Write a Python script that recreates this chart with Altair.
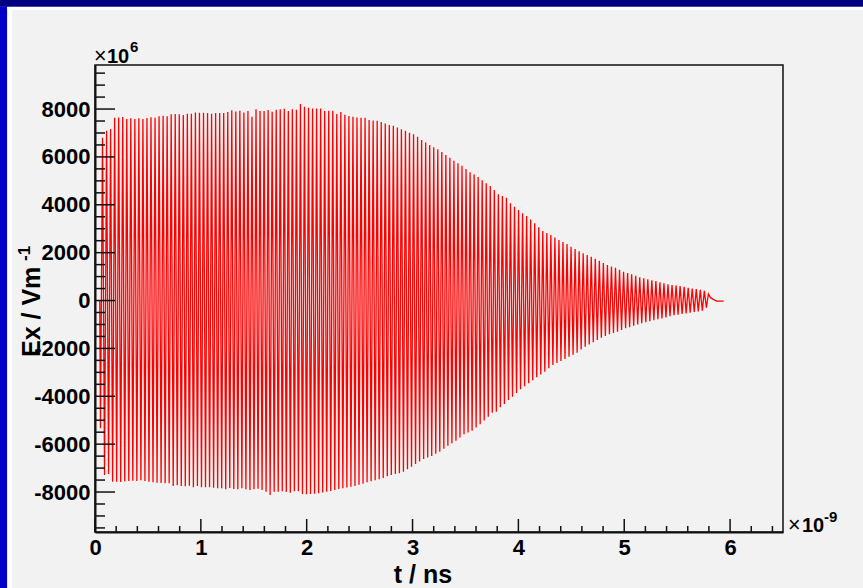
import altair as alt
import pandas as pd

FONT = "Liberation Sans"

# Upper peak of every RF cycle, Ex in units of 1e6 V/m
ex_peaks = [
    6800, 7093, 7163, 7636, 7650, 7665, 7580, 7610, 7580, 7620,
    7580, 7623, 7652, 7637, 7694, 7720, 7694, 7778, 7790, 7778,
    7750, 7804, 7804, 7860, 7846, 7846, 7832, 7804, 7832, 7832,
    7832, 7874, 7950, 7900, 7930, 7860, 7920, 7680, 7987, 7916,
    7916, 7958, 7888, 7972, 7987, 8013, 7916, 7987, 7972, 8208,
    8096, 8055, 8027, 8027, 8027, 7916, 7930, 7930, 7790, 7874,
    7762, 7707, 7680, 7650, 7637, 7637, 7540, 7525, 7510, 7456,
    7400, 7330, 7300, 7233, 7160, 7093, 7010, 6942, 6844, 6704,
    6600, 6495, 6400, 6316, 6200, 6078, 5960, 5840, 5740, 5631,
    5490, 5355, 5260, 5159, 5030, 4896, 4783, 4616, 4436, 4365,
    4294, 4060, 3920, 3780, 3650, 3530, 3380, 3225, 3060, 2903,
    2820, 2736, 2630, 2527, 2440, 2360, 2250, 2151, 2060, 1972,
    1900, 1830, 1745, 1662, 1570, 1483, 1425, 1370, 1285, 1203,
    1150, 1094, 1030, 969, 925, 885, 850, 815, 765, 718,
    680, 647, 625, 606, 570, 535, 505, 480, 445, 409,
    272,
]

# Lower trough of every RF cycle
ex_troughs = [
    -5340, -7290, -7250, -7570, -7570, -7582, -7555, -7540, -7527, -7540,
    -7513, -7540, -7568, -7596, -7610, -7624, -7637, -7637, -7749, -7721,
    -7749, -7763, -7735, -7804, -7749, -7804, -7804, -7804, -7818, -7846,
    -7846, -7887, -7832, -7874, -7887, -7846, -7887, -7916, -7887, -7860,
    -7916, -7985, -8124, -7985, -7985, -7972, -8000, -8027, -7972, -7972,
    -8083, -8097, -8080, -8070, -8055, -8020, -7990, -7958, -7920, -7870,
    -7846, -7810, -7780, -7749, -7700, -7650, -7596, -7550, -7510, -7470,
    -7410, -7340, -7290, -7250, -7220, -7150, -7052, -6940, -6830, -6720,
    -6621, -6560, -6496, -6400, -6315, -6190, -6065, -5960, -5856, -5720,
    -5589, -5510, -5439, -5300, -5171, -5010, -4854, -4687, -4645, -4461,
    -4323, -4156, -4018, -3860, -3709, -3580, -3459, -3330, -3208, -3090,
    -2974, -2830, -2694, -2610, -2527, -2440, -2347, -2260, -2180, -2050,
    -1930, -1840, -1746, -1650, -1554, -1480, -1412, -1360, -1303, -1230,
    -1161, -1110, -1053, -1000, -952, -910, -869, -825, -785, -745,
    -702, -660, -618, -590, -564, -535, -510, -480, -451, -420,
    -300,
]

T_START = 0.045     # ns, field switches on
T_FIRST = 0.052     # ns, first trough
PERIOD = 0.03816    # ns, one RF cycle

# ring-down after the last cycle
tail_t = [5.815, 5.845, 5.875, 5.94]
tail_ex = [120, 40, -25, -25]

x_ticks_major = [0, 1, 2, 3, 4, 5, 6]
x_ticks_minor = [round(0.2 * k, 1) for k in range(33) if k % 5]
y_ticks_major = list(range(-8000, 8001, 2000))
y_ticks_minor = [v for v in range(-9500, 9501, 500) if v % 2000]

rows = [{"t": T_START, "ex": 0}]
for i, (lo, hi) in enumerate(zip(ex_troughs, ex_peaks)):
    t = T_FIRST + i * PERIOD
    rows.append({"t": t, "ex": lo})
    rows.append({"t": t + PERIOD / 2, "ex": hi})
for t, v in zip(tail_t, tail_ex):
    rows.append({"t": t, "ex": v})
df = pd.DataFrame(rows)

W, H = 688, 467
PAD_L, PAD_T = 95, 65
PAD_R, PAD_B = 863 - PAD_L - W, 588 - PAD_T - H

xs = alt.Scale(domain=[0, 6.5], nice=False, zero=False)
ys = alt.Scale(domain=[-9670, 9840], nice=False, zero=False)

# plain ASCII hyphen for negative labels
axis_common = dict(
    ticks=False, grid=False, title=None, labelExpr="'' + datum.value",
    labelFont=FONT, labelFontSize=22, labelFontWeight="bold", labelColor="black",
    labelFlush=False, domainColor="#111111", domainWidth=2,
)

line = alt.Chart(df).mark_line(color="#ff0000", strokeWidth=1.3, clip=True).encode(
    x=alt.X("t:Q", scale=xs, axis=alt.Axis(values=x_ticks_major, labelPadding=5, **axis_common)),
    y=alt.Y("ex:Q", scale=ys, axis=alt.Axis(values=y_ticks_major, labelPadding=5, **axis_common)),
)


def xtick(vals, length):
    return alt.Chart(pd.DataFrame({"v": vals})).mark_rule(color="#111111", strokeWidth=1.5).encode(
        x=alt.X("v:Q", scale=xs, axis=None), y=alt.value(H), y2=alt.value(H - length)
    )


def ytick(vals, length):
    return alt.Chart(pd.DataFrame({"v": vals})).mark_rule(color="#111111", strokeWidth=1.5).encode(
        y=alt.Y("v:Q", scale=ys, axis=None), x=alt.value(0), x2=alt.value(length)
    )


def band(x, x2, y, y2, color):
    return alt.Chart(alt.Data(values=[{}])).mark_rect(color=color, opacity=1).encode(
        x=alt.value(x), x2=alt.value(x2), y=alt.value(y), y2=alt.value(y2)
    )


def label(text, x, y, size, align="left", angle=0, weight="bold"):
    return alt.Chart(alt.Data(values=[{}])).mark_text(
        text=text, font=FONT, fontSize=size, fontWeight=weight, color="black",
        align=align, baseline="alphabetic", angle=angle,
    ).encode(x=alt.value(x), y=alt.value(y))


RIGHT = W + PAD_R
BOTTOM = H + PAD_B

# canvas border
frame = [
    band(-PAD_L, -PAD_L + 7.3, -PAD_T, BOTTOM, "#0000c8"),
    band(-PAD_L + 7.3, -PAD_L + 12, -PAD_T + 7, BOTTOM, "#ffffff"),
    band(-PAD_L, RIGHT, -PAD_T, -PAD_T + 6.3, "#000080"),
    band(-PAD_L, RIGHT, -PAD_T + 6.3, -PAD_T + 7, "#2020b0"),
    band(-PAD_L + 7.3, RIGHT, -PAD_T + 7, -PAD_T + 10, "#ffffff"),
]

annotations = [
    label("×", -1, -2, 21.5, weight="normal"),
    label("10", 12, -2, 20),
    label("6", 35, -13, 15),
    label("×", 693, H, 21.5, weight="normal"),
    label("10", 707, H, 20),
    label("-9", 729, H - 10, 15),
    label("t / ns", 328, 518, 25, align="center"),
    label("Ex / Vm", -55, 292, 25, angle=270),
    label("-1", -65, 196, 17, angle=270),
]

chart = alt.layer(
    *frame,
    line,
    xtick(x_ticks_major, 13),
    xtick(x_ticks_minor, 6),
    ytick(y_ticks_major, 20),
    ytick(y_ticks_minor, 10),
    *annotations,
).resolve_axis(
    x="independent", y="independent"
).properties(
    width=W, height=H,
    padding={"left": PAD_L, "top": PAD_T, "right": PAD_R, "bottom": PAD_B},
    autosize=alt.AutoSizeParams(type="none"),
    background="#f2f2f2",
).configure_view(stroke="#111111", strokeWidth=1.5)

chart.save("out.html", embed_options={"renderer": "svg", "actions": False})
